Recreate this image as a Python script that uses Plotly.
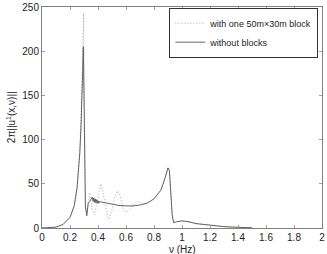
import plotly.graph_objects as go

# without blocks (solid)
freq_solid = [0.0, 0.07, 0.10, 0.15, 0.20, 0.23, 0.25, 0.27, 0.28, 0.29, 0.295, 0.30, 0.305, 0.31, 0.32,
              0.325, 0.33, 0.34, 0.35, 0.36, 0.365, 0.37, 0.375, 0.38, 0.385, 0.39, 0.395, 0.40, 0.405,
              0.41, 0.42, 0.45, 0.50, 0.55, 0.60, 0.65, 0.70, 0.75, 0.80, 0.85, 0.88, 0.90, 0.91, 0.92,
              0.93, 0.94, 0.96, 1.00, 1.05, 1.10, 1.20, 1.30, 1.40, 1.50]
amp_solid = [0.0, 0.3, 1.0, 4.0, 12.0, 25.0, 45.0, 85.0, 120.0, 175.0, 205.0, 150.0, 60.0, 25.0, 14.0,
             20.0, 28.0, 30.0, 33.0, 35.0, 30.0, 34.0, 29.0, 33.0, 28.5, 32.0, 28.0, 31.0, 28.0,
             30.0, 29.5, 28.5, 27.0, 25.5, 25.0, 25.0, 26.0, 28.0, 33.0, 43.0, 57.0, 68.0, 65.0, 45.0,
             15.0, 6.0, 7.0, 8.0, 7.0, 5.0, 3.0, 1.5, 0.8, 0.3]

# with one 50m x 30m block (dotted)
freq_dot = [0.0, 0.07, 0.10, 0.15, 0.20, 0.23, 0.25, 0.27, 0.28, 0.29, 0.297, 0.30, 0.305, 0.31, 0.32,
            0.33, 0.34, 0.35, 0.36, 0.375, 0.39, 0.41, 0.42, 0.43, 0.45, 0.47, 0.48, 0.50, 0.52, 0.54,
            0.56, 0.58, 0.60, 0.62, 0.65, 0.68, 0.70, 0.72, 0.75, 0.80, 0.85, 0.88, 0.90, 0.91, 0.92,
            0.93, 0.94, 0.96, 1.00, 1.05, 1.10, 1.20, 1.30, 1.40, 1.50]
amp_dot = [0.0, 0.3, 1.0, 4.0, 12.0, 25.0, 45.0, 85.0, 125.0, 185.0, 243.0, 170.0, 70.0, 22.0, 15.0,
           30.0, 40.0, 30.0, 20.0, 15.0, 28.0, 45.0, 50.0, 45.0, 28.0, 12.0, 10.0, 20.0, 35.0, 42.0,
           35.0, 22.0, 18.0, 20.0, 26.0, 30.0, 29.0, 27.0, 28.0, 33.0, 43.0, 57.0, 68.0, 65.0, 45.0,
           15.0, 6.0, 7.0, 8.0, 7.0, 5.0, 3.0, 1.5, 0.8, 0.3]

x_ticks = [0, 0.2, 0.4, 0.6, 0.8, 1, 1.2, 1.4, 1.6, 1.8, 2]
x_tick_text = ["0", "0.2", "0.4", "0.6", "0.8", "1", "1.2", "1.4", "1.6", "1.8", "2"]
y_ticks = [0, 50, 100, 150, 200, 250]

fig = go.Figure()
fig.add_trace(go.Scatter(x=freq_dot, y=amp_dot, mode="lines", name="with one 50m×30m block",
                         line=dict(color="#a8a8a8", width=1, dash="1px,2px")))
fig.add_trace(go.Scatter(x=freq_solid, y=amp_solid, mode="lines", name="without blocks",
                         line=dict(color="#555555", width=0.9)))

axis_common = dict(showgrid=False, zeroline=False, showline=True, linecolor="#808080", linewidth=1,
                   mirror="ticks", ticks="inside", ticklen=3, tickcolor="#a0a0a0", automargin=False,
                   tickfont=dict(size=10, color="#222222"))
fig.update_xaxes(range=[0, 2], tickvals=x_ticks, ticktext=x_tick_text, **axis_common)
fig.update_yaxes(range=[0, 250], tickvals=y_ticks, **axis_common)

fig.add_annotation(text="ν (Hz)", xref="paper", yref="paper", x=0.5, y=-0.062,
                   xanchor="center", yanchor="top", showarrow=False, font=dict(size=10, color="#222222"))
fig.add_annotation(text="2π||u<sup>1</sup>(x,ν)||", xref="paper", yref="paper", x=-0.112, y=0.5,
                   xanchor="center", yanchor="middle", textangle=-90, showarrow=False,
                   font=dict(size=10, color="#222222"))

fig.update_layout(
    width=327, height=254,
    margin=dict(l=42, r=5, t=7, b=26),
    plot_bgcolor="white", paper_bgcolor="white",
    font=dict(family="Liberation Sans, Arial, sans-serif", size=10, color="#222222"),
    legend=dict(x=0.987, y=0.997, xanchor="right", yanchor="top", bgcolor="white",
                bordercolor="#333333", borderwidth=1, font=dict(size=9),
                tracegroupgap=0, itemwidth=30),
    showlegend=True,
)

fig.write_html("out.html", config={"displayModeBar": False},
               post_script="document.body.style.margin='0';document.body.style.padding='0';")
